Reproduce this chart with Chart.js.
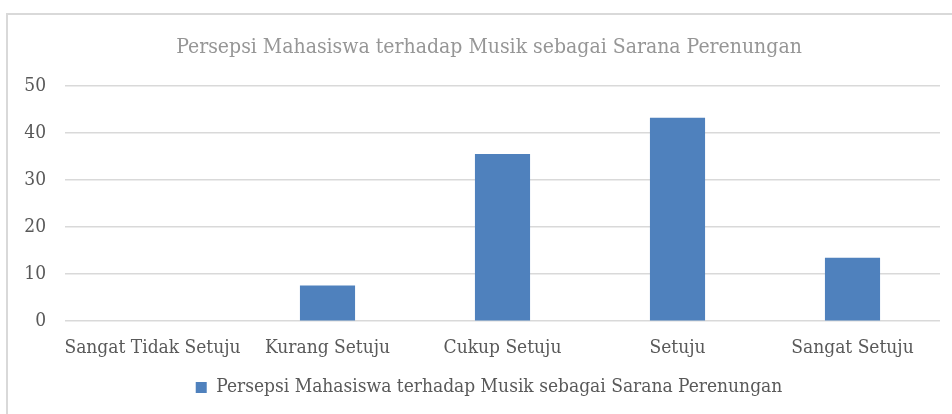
<!DOCTYPE html>
<html>
<head>
<meta charset="utf-8">
<script src="https://cdn.jsdelivr.net/npm/chart.js@4/dist/chart.umd.min.js"></script>
<style>
  html, body { margin: 0; padding: 0; background: #fff; }
  #frame {
    position: absolute; left: 6px; top: 13px; width: 946px; height: 401px;
    border-left: 2px solid #d9d9d9; border-top: 2px solid #d9d9d9;
  }
  #wrap { position: absolute; left: 0; top: 0; width: 952px; height: 414px; }
</style>
</head>
<body>
<div id="frame"></div>
<div id="wrap"><canvas id="myChart"></canvas></div>
<script>
const categories = ['Sangat Tidak Setuju', 'Kurang Setuju', 'Cukup Setuju', 'Setuju', 'Sangat Setuju'];
const seriesName = 'Persepsi Mahasiswa terhadap Musik sebagai Sarana Perenungan';
const values = [0, 7.6, 35.6, 43.3, 13.5];
const yTicks = [0, 10, 20, 30, 40, 50];

const fontFamily = '"DejaVu Serif Condensed", "DejaVu Serif", serif';
const barColor = '#4f81bd';

// the left padding moves title/legend centre right (original is cropped on the right);
// let the y labels draw into that padding instead of being clipped
const unclipYLabels = {
  id: 'unclipYLabels',
  afterLayout(chart) {
    chart.scales.y.left = 0;
  },
};

new Chart(document.getElementById('myChart'), {
  type: 'bar',
  data: {
    labels: categories,
    datasets: [
      {
        label: seriesName,
        data: values,
        backgroundColor: barColor,
        categoryPercentage: 1,
        barPercentage: 0.315,
      },
    ],
  },
  options: {
    responsive: true,
    maintainAspectRatio: false,
    animation: false,
    layout: { padding: { left: 38, right: 12, top: 35, bottom: 7 } },
    scales: {
      x: {
        grid: { display: false },
        border: { display: false },
        ticks: {
          color: '#595959',
          font: { family: fontFamily, size: 19 },
          maxRotation: 0,
          autoSkip: false,
          padding: 7,
        },
      },
      y: {
        min: 0,
        max: yTicks[yTicks.length - 1],
        afterBuildTicks: (axis) => { axis.ticks = yTicks.map(v => ({ value: v })); },
        afterFit: (axis) => { axis.width = 27; },
        grid: { color: '#d9d9d9', lineWidth: 1.5, drawTicks: false },
        border: { display: false },
        ticks: {
          color: '#595959',
          font: { family: fontFamily, size: 19 },
          padding: 19,
        },
      },
    },
    plugins: {
      title: {
        display: true,
        text: seriesName,
        color: '#969696',
        font: { family: fontFamily, size: 21, weight: 'normal' },
        padding: { top: 0, bottom: 26 },
      },
      legend: {
        position: 'bottom',
        labels: {
          color: '#595959',
          font: { family: fontFamily, size: 19 },
          boxWidth: 11,
          boxHeight: 11,
          padding: 12,
        },
      },
      tooltip: { enabled: false },
    },
  },
  plugins: [unclipYLabels],
});
</script>
</body>
</html>
